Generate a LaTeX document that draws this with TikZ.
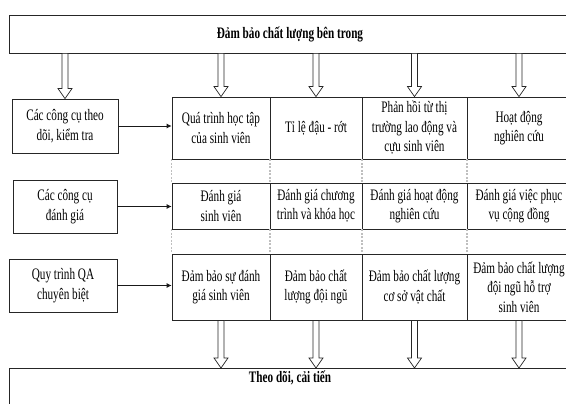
\documentclass[tikz,border=0pt]{standalone}
\usepackage{fontspec}
\setmainfont{Liberation Serif}[FakeStretch=0.70]
\usetikzlibrary{arrows.meta,calc}
\tikzset{
  txt/.style={font=\fontsize{16}{19.5}\selectfont},
  box/.style={draw=black!85, line width=0.8pt, rectangle, inner sep=0pt, align=center, txt},
  cell/.style={box},
  hollow/.style={draw=black!85, line width=0.7pt, fill=white},
  link/.style={draw=black!90, line width=0.8pt, -{Latex[length=5pt,width=5pt]}},
  gap/.style={draw=black!25, line width=0.5pt, dash pattern=on 2pt off 1.5pt},
}
\newcommand\hollowarrow[2]{%
  \path[hollow] let \p1=(#1), \p2=(#2) in
    (\x2-3pt,\y1) -- (\x2+3pt,\y1) -- (\x2+3pt,\y2+10pt) -- (\x2+7pt,\y2+10pt)
    -- (\x2,\y2) -- (\x2-7pt,\y2+10pt) -- (\x2-3pt,\y2+10pt) -- cycle;}
\begin{document}
\begin{tikzpicture}[x=1pt,y=-1pt]
\useasboundingbox (0,0) rectangle (566,404);
\clip (0,0) rectangle (566,404);
% top and bottom boxes
\node[box, minimum width=562, minimum height=38] (top) at (290,34) {\textbf{Đảm bảo chất lượng bên trong}};
\node[box, minimum width=562, minimum height=60, anchor=north] (bot) at (290,368) {};
\node[txt, font=\fontsize{16}{19.5}\selectfont\bfseries, inner sep=0pt] (bottxt) at (290,378) {Theo dõi, cải tiến};
% left boxes
\node[box, minimum width=106, minimum height=54] (l1) at (65,126) {Các công cụ theo\\dõi, kiểm tra};
\node[box, minimum width=104, minimum height=53] (l2) at (65,206.5) {Các công cụ\\đánh giá};
\node[box, minimum width=108, minimum height=53] (l3) at (63,285.5) {Quy trình QA\\chuyên biệt};
% row 1
\node[cell, minimum width=98, minimum height=62] (c11) at (221,128) {Quá trình học tập\\của sinh viên};
\node[cell, minimum width=92, minimum height=62] (c12) at (316,128) {Tỉ lệ đậu - rớt};
\node[cell, minimum width=105, minimum height=62] (c13) at (414.5,128) {Phản hồi từ thị\\trường lao động và\\cựu sinh viên};
\node[cell, minimum width=104, minimum height=62] (c14) at (519,128) {Hoạt động\\nghiên cứu};
% row 2
\node[cell, minimum width=98, minimum height=46] (c21) at (221,206) {Đánh giá\\sinh viên};
\node[cell, minimum width=92, minimum height=46] (c22) at (316,206) {Đánh giá chương\\trình và khóa học};
\node[cell, minimum width=105, minimum height=46] (c23) at (414.5,206) {Đánh giá hoạt động\\nghiên cứu};
\node[cell, minimum width=104, minimum height=46] (c24) at (519,206) {Đánh giá việc phục\\vụ cộng đồng};
% row 3
\node[cell, minimum width=98, minimum height=66] (c31) at (221,287) {Đảm bảo sự đánh\\giá sinh viên};
\node[cell, minimum width=92, minimum height=66] (c32) at (316,287) {Đảm bảo chất\\lượng đội ngũ};
\node[cell, minimum width=105, minimum height=66] (c33) at (414.5,287) {Đảm bảo chất lượng\\cơ sở vật chất};
\node[cell, minimum width=104, minimum height=66] (c34) at (519,287) {Đảm bảo chất lượng\\đội ngũ hỗ trợ\\sinh viên};
% dashed gap lines
\foreach \a/\b in {c11/c21,c12/c22,c13/c23,c14/c24,c21/c31,c22/c32,c23/c33,c24/c34}{
  \draw[gap] (\a.south west) -- (\b.north west);
  \draw[gap] (\a.south east) -- (\b.north east);
}
% horizontal arrows
\draw[link] (l1.east) -- (l1.east -| c11.west);
\draw[link] (l2.east) -- (l2.east -| c21.west);
\draw[link] (l3.east) -- (l3.east -| c31.west);
% hollow arrows from top
\hollowarrow{top.south}{l1.north}
\hollowarrow{top.south}{c11.north}
\hollowarrow{top.south}{c12.north}
\hollowarrow{top.south}{c13.north}
\hollowarrow{top.south}{c14.north}
% hollow arrows to bottom
\hollowarrow{c31.south}{bot.north -| c31.south}
\hollowarrow{c32.south}{bot.north -| c32.south}
\hollowarrow{c33.south}{bot.north -| c33.south}
\hollowarrow{c34.south}{bot.north -| c34.south}
\end{tikzpicture}
\end{document}
